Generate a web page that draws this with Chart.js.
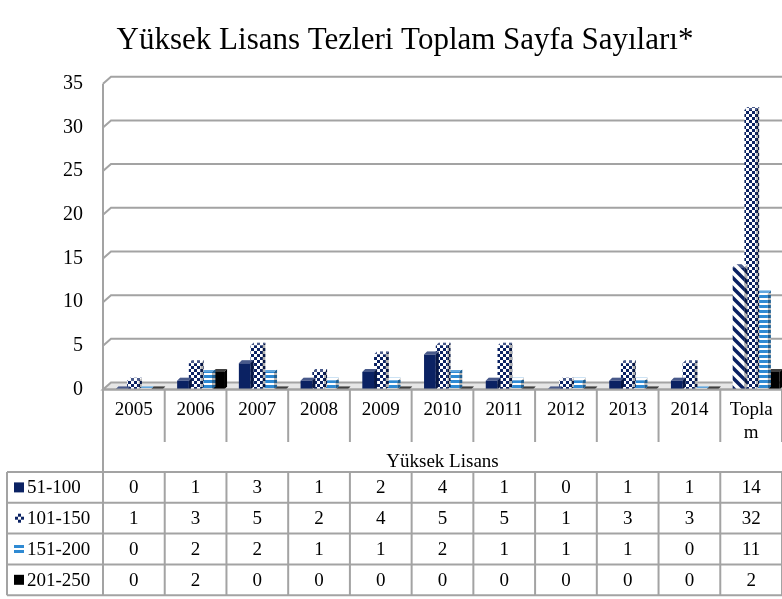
<!DOCTYPE html>
<html><head><meta charset="utf-8">
<script src="https://cdn.jsdelivr.net/npm/chart.js@4.4.0/dist/chart.umd.min.js"></script>
<style>html,body{margin:0;padding:0;background:#fff}</style>
</head><body>
<canvas id="c" width="782" height="599" style="display:block;width:782px;height:599px"></canvas>
<script>
// ---- data ----
const categories = ['2005','2006','2007','2008','2009','2010','2011','2012','2013','2014',['Topla','m']];
const seriesNames = ['51-100','101-150','151-200','201-250'];
const s51_100  = [0,1,3,1,2,4,1,0,1,1,14];
const s101_150 = [1,3,5,2,4,5,5,1,3,3,32];
const s151_200 = [0,2,2,1,1,2,1,1,1,0,11];
const s201_250 = [0,2,0,0,0,0,0,0,0,0,2];
const yTicks = [0,5,10,15,20,25,30,35];
const chartTitle = 'Yüksek Lisans Tezleri Toplam Sayfa Sayıları*';
const axisTitle = 'Yüksek Lisans';

// ---- styles ----
const FONT = "'Liberation Serif', 'Times New Roman', serif";
const NAVY = '#0b2263', BLUE = '#2f8ad3', BLACK = '#000000', LINE = '#a3a3a3';
function mk(w,h,draw){const c=document.createElement('canvas');c.width=w;c.height=h;const g=c.getContext('2d');draw(g);return g.createPattern(c,'repeat');}
const checker = mk(6,6,g=>{g.fillStyle='#fff';g.fillRect(0,0,6,6);g.fillStyle=NAVY;g.fillRect(0,0,3,3);g.fillRect(3,3,3,3);});
const hstripe = mk(6,5,g=>{g.fillStyle='#fff';g.fillRect(0,0,6,5);g.fillStyle=BLUE;g.fillRect(0,0,6,3);});
const diag = mk(10,10,g=>{g.fillStyle='#fff';g.fillRect(0,0,10,10);g.strokeStyle=NAVY;g.lineWidth=3.5;g.beginPath();
  g.moveTo(-3,-3);g.lineTo(13,13);g.moveTo(-3,7);g.lineTo(3,13);g.moveTo(7,-3);g.lineTo(13,3);g.stroke();});

const GX = 8, GY = 7;   // wall depth
const BD = 3;           // bar depth
const SHIFT = 5;
const TITLE_SHIFT = 14;
const TABLE_TOP = 472, ROW_H = 30.8, TABLE_LEFT = 7, CAT_ROW_BOTTOM = 442;

const titleShiftPlugin = {
  id:'titleShift',
  afterLayout(chart){ const t = chart.titleBlock; if(t){ t.left += 2*TITLE_SHIFT; } }
};

const wallPlugin = {
  id:'wall3d',
  beforeDatasetsDraw(chart){
    const {ctx, chartArea:{left,right}} = chart;
    const ys = chart.scales.y;
    ctx.save();
    ctx.lineWidth = 2; ctx.strokeStyle = LINE;
    const y0 = ys.getPixelForValue(0);
    ctx.beginPath(); ctx.moveTo(left,y0); ctx.lineTo(left+GX,y0-GY); ctx.lineTo(right+2,y0-GY); ctx.lineTo(right+2,y0); ctx.closePath();
    ctx.fillStyle='#e6e6e6'; ctx.fill(); ctx.stroke();
    yTicks.forEach(v=>{ if(v===0) return; const y=ys.getPixelForValue(v);
      ctx.beginPath(); ctx.moveTo(left,y); ctx.lineTo(left+GX,y-GY); ctx.lineTo(right+2,y-GY); ctx.stroke(); });
    ctx.beginPath(); ctx.moveTo(left, ys.getPixelForValue(yTicks[yTicks.length-1])); ctx.lineTo(left, y0); ctx.stroke();
    ctx.restore();
    ctx.save(); ctx.translate(SHIFT,0);
  },
  afterDatasetDraw(chart,args){
    const ctx = chart.ctx;
    args.meta.data.forEach(bar=>{
      const p = bar.getProps(['x','y','base','width'], true);
      const x0=p.x-p.width/2, x1=p.x+p.width/2, yt=Math.min(p.y,p.base), yb=Math.max(p.y,p.base);
      const fill = bar.options.backgroundColor;
      ctx.beginPath(); ctx.moveTo(x1,yt); ctx.lineTo(x1+BD,yt-BD); ctx.lineTo(x1+BD,yb-BD); ctx.lineTo(x1,yb); ctx.closePath();
      ctx.fillStyle=fill; ctx.fill(); ctx.fillStyle='rgba(0,0,0,0.3)'; ctx.fill();
      ctx.beginPath(); ctx.moveTo(x0,yt); ctx.lineTo(x0+BD,yt-BD); ctx.lineTo(x1+BD,yt-BD); ctx.lineTo(x1,yt); ctx.closePath();
      ctx.fillStyle=fill; ctx.fill(); ctx.fillStyle='rgba(255,255,255,0.25)'; ctx.fill();
    });
  },
  afterDatasetsDraw(chart){ chart.ctx.restore(); }
};

function drawKey(ctx, i, x, yc){
  if(i===0){ ctx.fillStyle=NAVY; ctx.fillRect(x, yc-5, 10, 10); }
  else if(i===1){ ctx.fillStyle=NAVY; const s=3, ox=x+1, oy=yc-4.5;
    ctx.fillRect(ox+s,oy,s,s); ctx.fillRect(ox,oy+s,s,s); ctx.fillRect(ox+2*s,oy+s,s,s); ctx.fillRect(ox+s,oy+2*s,s,s); }
  else if(i===2){ ctx.fillStyle=BLUE; ctx.fillRect(x, yc-4, 10, 3); ctx.fillRect(x, yc+1, 10, 3); }
  else { ctx.fillStyle=BLACK; ctx.fillRect(x, yc-5, 10, 10); }
}

const tablePlugin = {
  id:'dataTable',
  afterDraw(chart){
    const {ctx, chartArea:{left,right,bottom}} = chart;
    const xs = chart.scales.x;
    const n = categories.length;
    const w = xs.getPixelForValue(1) - xs.getPixelForValue(0);
    const bound = i => (i < n ? xs.getPixelForValue(i) - w/2 : xs.getPixelForValue(n-1) + w/2);
    ctx.save();
    ctx.strokeStyle = LINE; ctx.lineWidth = 2;
    ctx.beginPath(); ctx.moveTo(left,bottom); ctx.lineTo(right+2,bottom); ctx.stroke();
    for(let i=0;i<=n;i++){ const x=bound(i); ctx.beginPath(); ctx.moveTo(x,bottom); ctx.lineTo(x, i===0?TABLE_TOP:CAT_ROW_BOTTOM); ctx.stroke(); }
    const rows = [s51_100, s101_150, s151_200, s201_250];
    for(let r=0;r<=rows.length;r++){ const y=TABLE_TOP+r*ROW_H; ctx.beginPath(); ctx.moveTo(TABLE_LEFT,y); ctx.lineTo(right+2,y); ctx.stroke(); }
    const tb = TABLE_TOP + rows.length*ROW_H;
    [TABLE_LEFT].concat(Array.from({length:n+1},(_,i)=>bound(i))).forEach(x=>{ ctx.beginPath(); ctx.moveTo(x,TABLE_TOP); ctx.lineTo(x,tb); ctx.stroke(); });
    ctx.font = '19px ' + FONT; ctx.textBaseline='middle'; ctx.fillStyle='#000';
    rows.forEach((vals,r)=>{
      const yc = TABLE_TOP + r*ROW_H + ROW_H/2;
      drawKey(ctx, r, 14, yc);
      ctx.fillStyle='#000'; ctx.textAlign='left'; ctx.fillText(seriesNames[r], 27, yc+1);
      ctx.textAlign='center';
      vals.forEach((v,i)=>{ ctx.fillText(String(v), xs.getPixelForValue(i), yc+1); });
    });
    ctx.restore();
  }
};

new Chart(document.getElementById('c'), {
  type:'bar',
  data:{
    labels: categories,
    datasets:[
      {label:seriesNames[0], data:s51_100, backgroundColor: s51_100.map((v,i)=> i===s51_100.length-1 ? diag : NAVY)},
      {label:seriesNames[1], data:s101_150, backgroundColor: checker},
      {label:seriesNames[2], data:s151_200, backgroundColor: hstripe},
      {label:seriesNames[3], data:s201_250, backgroundColor: BLACK}
    ]
  },
  options:{
    responsive:false, devicePixelRatio:1, animation:false,
    barPercentage:1, categoryPercentage:0.76,
    layout:{padding:{left:0,right:0,top:0,bottom:599-TABLE_TOP}},
    plugins:{
      legend:{display:false}, tooltip:{enabled:false},
      title:{display:true, text:chartTitle, color:'#000', font:{family:FONT, size:31, weight:'normal', lineHeight:1.2}, padding:{top:22,bottom:24.5}}
    },
    scales:{
      x:{
        grid:{display:false, drawTicks:false}, border:{display:false},
        ticks:{color:'#000', font:{family:FONT, size:19}, padding:9, maxRotation:0, autoSkip:false},
        title:{display:true, text:axisTitle, color:'#000', font:{family:FONT, size:19, lineHeight:1}, padding:{top:0,bottom:0.5}},
        afterFit(s){ s.height = TABLE_TOP - 389.5; }
      },
      y:{
        min:0, max:35,
        grid:{display:false, drawTicks:false}, border:{display:false},
        ticks:{stepSize:5, color:'#000', font:{family:FONT, size:20}, padding:20},
        afterFit(s){ s.width = 103; }
      }
    }
  },
  plugins:[titleShiftPlugin, wallPlugin, tablePlugin]
});
</script>
</body></html>
